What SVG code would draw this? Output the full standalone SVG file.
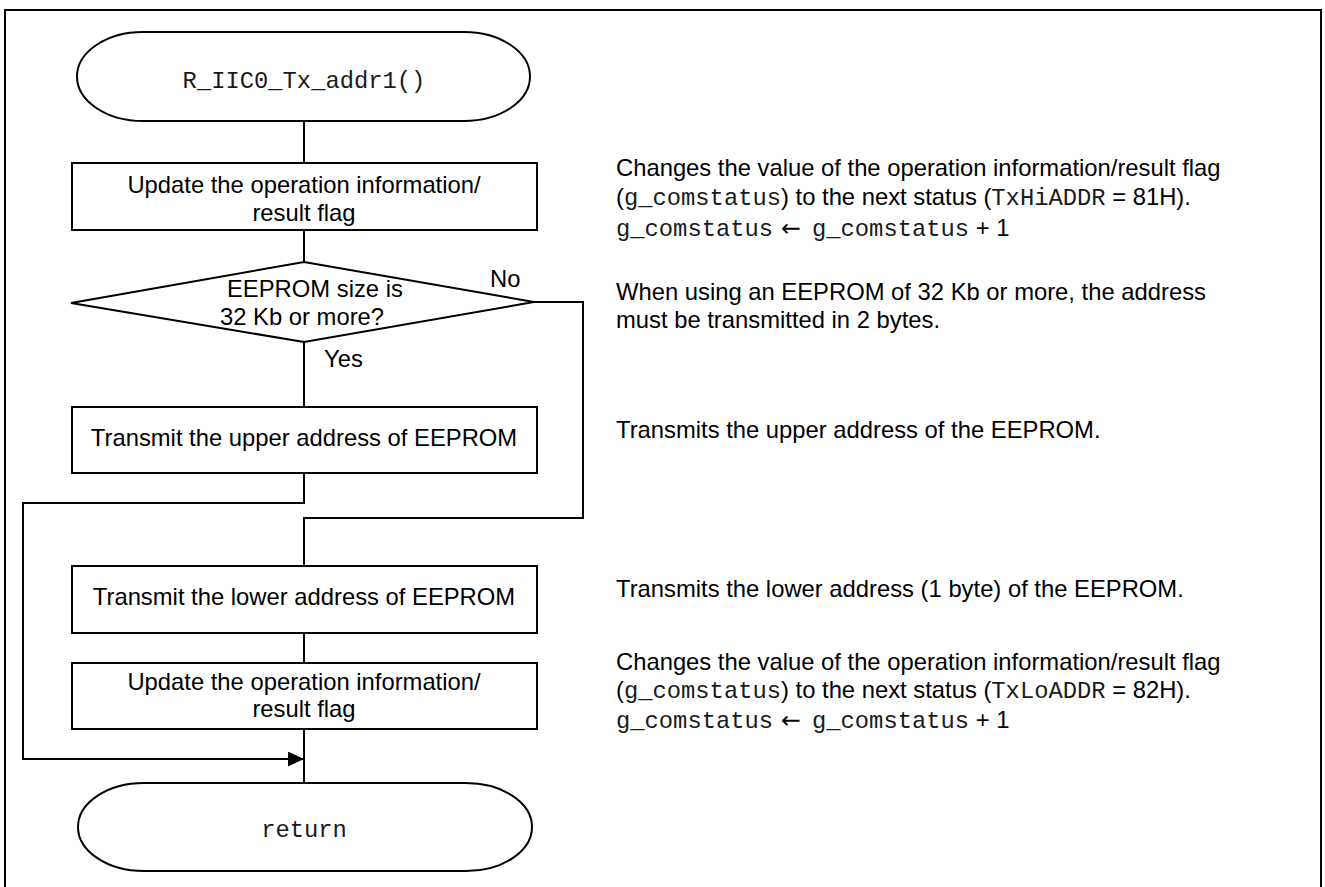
<svg xmlns="http://www.w3.org/2000/svg" width="1325" height="887" viewBox="0 0 1325 887">
  <style>
    .shape { fill: #ffffff; stroke: #000000; stroke-width: 2; }
    .line { fill: none; stroke: #000000; stroke-width: 2; }
    .sans { font-family: "Liberation Sans", Arial, "DejaVu Sans", sans-serif; font-size: 23.8px; fill: #000000; }
    .mono { font-family: "Liberation Mono", "Courier New", monospace; font-size: 23.8px; fill: #1a1a1a; }
    .sym { font-family: "DejaVu Sans", sans-serif; font-size: 23.8px; }
    .mid { text-anchor: middle; }
  </style>
  <defs>
    <marker id="arrow" markerUnits="userSpaceOnUse" markerWidth="17" markerHeight="15" refX="16" refY="7.5" orient="auto">
      <path d="M0,0 L16,7.5 L0,15 Z" fill="#000000"/>
    </marker>
  </defs>

  <rect width="1325" height="887" fill="#ffffff"/>
  <!-- outer frame -->
  <rect x="5" y="10" width="1316" height="884" fill="none" stroke="#000000" stroke-width="2"/>

  <!-- connectors -->
  <g id="connectors">
    <path class="line" d="M304,121 V163"/>
    <path class="line" d="M304,230 V262"/>
    <path class="line" d="M304,342 V407"/>
    <path class="line" d="M534,302 H583 V518 H304 V566"/>
    <path class="line" d="M304,473 V503 H23 V759 H304" marker-end="url(#arrow)"/>
    <path class="line" d="M304,633 V663"/>
    <path class="line" d="M304,729 V783"/>
    <text class="sans" x="490" y="287">No</text>
    <text class="sans" x="324" y="367">Yes</text>
  </g>

  <g id="start">
    <path class="shape" d="M143,32 H464 A66,44.5 0 0 1 464,121 H143 A66,44.5 0 0 1 143,32 Z"/>
    <text class="mono mid" x="304" y="88">R_IIC0_Tx_addr1()</text>
  </g>

  <g id="update1">
    <rect class="shape" x="72" y="163" width="465" height="67"/>
    <text class="sans mid" x="304" y="193">Update the operation information/</text>
    <text class="sans mid" x="304" y="221">result flag</text>
  </g>

  <g id="decision">
    <path class="shape" d="M304,262 L534,302 L304,342 L71,303 Z"/>
    <text class="sans" x="227" y="297">EEPROM size is</text>
    <text class="sans" x="220" y="325">32 Kb or more?</text>
  </g>

  <g id="tx-upper">
    <rect class="shape" x="72" y="407" width="465" height="66"/>
    <text class="sans mid" x="304" y="446">Transmit the upper address of EEPROM</text>
  </g>

  <g id="tx-lower">
    <rect class="shape" x="72" y="566" width="465" height="67"/>
    <text class="sans mid" x="304" y="605">Transmit the lower address of EEPROM</text>
  </g>

  <g id="update2">
    <rect class="shape" x="72" y="663" width="465" height="66"/>
    <text class="sans mid" x="304" y="690">Update the operation information/</text>
    <text class="sans mid" x="304" y="717">result flag</text>
  </g>

  <g id="end">
    <path class="shape" d="M144,783 H466 A66,44 0 0 1 466,871 H144 A66,44 0 0 1 144,783 Z"/>
    <text class="mono mid" x="304" y="837">return</text>
  </g>

  <!-- step notes -->
  <g id="notes">
    <text class="sans" x="616" y="176">Changes the value of the operation information/result flag</text>
    <text class="sans" x="616" y="205">(<tspan class="mono">g_comstatus</tspan>) to the next status (<tspan class="mono">TxHiADDR</tspan> = 81H).</text>
    <text class="sans" x="616" y="236"><tspan class="mono">g_comstatus</tspan><tspan class="sym" x="781">←</tspan><tspan class="mono" x="812">g_comstatus</tspan> + 1</text>

    <text class="sans" x="616" y="300">When using an EEPROM of 32 Kb or more, the address</text>
    <text class="sans" x="616" y="328">must be transmitted in 2 bytes.</text>

    <text class="sans" x="616" y="438">Transmits the upper address of the EEPROM.</text>

    <text class="sans" x="616" y="597">Transmits the lower address (1 byte) of the EEPROM.</text>

    <text class="sans" x="616" y="670">Changes the value of the operation information/result flag</text>
    <text class="sans" x="616" y="698">(<tspan class="mono">g_comstatus</tspan>) to the next status (<tspan class="mono">TxLoADDR</tspan> = 82H).</text>
    <text class="sans" x="616" y="728"><tspan class="mono">g_comstatus</tspan><tspan class="sym" x="781">←</tspan><tspan class="mono" x="812">g_comstatus</tspan> + 1</text>
  </g>
</svg>
